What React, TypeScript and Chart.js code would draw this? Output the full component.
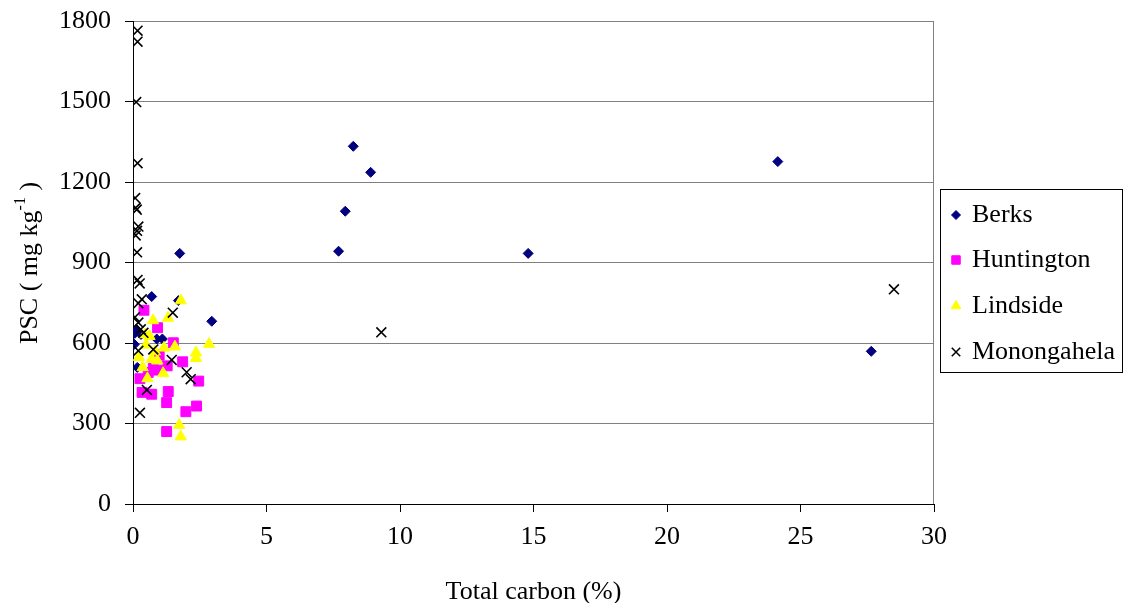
import React, { useEffect, useRef } from "react";
import { Chart, registerables } from "chart.js";
import { drawPoint } from "chart.js/helpers";

Chart.register(...registerables);

// Total carbon (%) vs PSC (mg kg-1) per soil series
const berksCarbon = [0.05, 0.07, 0.15, 0.3, 0.16, 0.7, 0.89, 1.1, 1.7, 1.75, 2.95, 7.7, 7.95, 8.25, 8.9, 14.8, 24.15, 27.65];
const berksPsc = [595, 636, 648, 632, 509, 773, 615, 615, 758, 934, 681, 942, 1091, 1333, 1236, 934, 1276, 569];

const huntingtonCarbon = [0.41, 0.92, 1.51, 1.86, 0.98, 1.28, 0.76, 0.57, 0.88, 0.26, 2.46, 0.34, 0.7, 1.32, 1.26, 2.38, 1.98, 1.26];
const huntingtonPsc = [722, 657, 601, 530, 555, 515, 506, 490, 499, 467, 458, 416, 409, 419, 378, 365, 344, 270];

const lindsideCarbon = [1.79, 0.75, 1.31, 0.45, 0.62, 2.85, 0.49, 1.16, 1.57, 0.82, 2.36, 2.36, 0.22, 0.7, 0.91, 0.36, 1.13, 0.54, 1.73, 1.79];
const lindsidePsc = [758, 684, 693, 632, 625, 596, 593, 582, 586, 568, 564, 543, 547, 540, 534, 509, 487, 468, 294, 251];

const monongahelaCarbon = [0.17, 0.17, 0.12, 0.17, 0.08, 0.1, 0.14, 0.2, 0.15, 0.1, 0.15, 0.17, 0.25, 0.33, 0.2, 0.07, 0.2, 0.29, 0.39, 1.49, 0.76, 0.2, 1.45, 2.01, 2.16, 0.52, 0.26, 9.3, 28.5];
const monongahelaPsc = [1764, 1723, 1498, 1270, 1140, 1104, 1097, 1034, 1018, 1001, 938, 835, 822, 763, 748, 696, 676, 651, 638, 713, 576, 571, 537, 491, 465, 425, 340, 640, 800];

const seriesNames = ["Berks", "Huntington", "Lindside", "Monongahela"];
const xTicks = [0, 5, 10, 15, 20, 25, 30];
const yTicks = [0, 300, 600, 900, 1200, 1500, 1800];

const FONT = '"Liberation Serif", "Times New Roman", serif';

const toPoints = (xs: number[], ys: number[]) => xs.map((x, i) => ({ x, y: ys[i] }));

const seriesStyle = [
  { pointStyle: "rectRot", color: "#000080", radius: 5, legendRadius: 4.5 },
  { pointStyle: "rect", color: "#FF00FF", radius: 7, legendRadius: 6 },
  { pointStyle: "triangle", color: "#FFFF00", radius: 6.5, legendRadius: 5.5 },
  { pointStyle: "crossRot", color: "#000000", radius: 7, legendRadius: 6 },
];

// Border on the right of the plot, y-axis title with superscript, boxed legend
const decorations = {
  id: "decorations",
  afterDraw(chart: any) {
    const { ctx, chartArea } = chart;
    ctx.save();
    ctx.strokeStyle = "#808080";
    ctx.lineWidth = 1;
    ctx.beginPath();
    ctx.moveTo(Math.round(chartArea.right) - 0.5, chartArea.top);
    ctx.lineTo(Math.round(chartArea.right) - 0.5, chartArea.bottom);
    ctx.stroke();

    // y-axis title
    ctx.fillStyle = "#000";
    ctx.translate(22, 255);
    ctx.rotate(-Math.PI / 2);
    ctx.textBaseline = "middle";
    ctx.font = `26px ${FONT}`;
    const a = "PSC ( mg kg";
    const sup = "-1";
    const b = " )";
    const wa = ctx.measureText(a).width;
    const wb = ctx.measureText(b).width;
    ctx.font = `16px ${FONT}`;
    const ws = ctx.measureText(sup).width;
    const total = wa + ws + wb;
    let cx = -total / 2;
    ctx.font = `26px ${FONT}`;
    ctx.textAlign = "left";
    ctx.fillText(a, cx, 0);
    cx += wa;
    ctx.font = `16px ${FONT}`;
    ctx.fillText(sup, cx, -9);
    cx += ws;
    ctx.font = `26px ${FONT}`;
    ctx.fillText(b, cx, 0);
    ctx.restore();

    // legend
    ctx.save();
    ctx.strokeStyle = "#000";
    ctx.lineWidth = 1;
    ctx.strokeRect(932.5, 181.5, 182, 183);
    const rows = [207, 252, 298, 344];
    seriesNames.forEach((name, i) => {
      const st = seriesStyle[i];
      ctx.fillStyle = st.color;
      ctx.strokeStyle = st.color;
      ctx.lineWidth = st.pointStyle === "crossRot" ? 1.5 : 1;
      drawPoint(ctx, { pointStyle: st.pointStyle as any, radius: st.legendRadius, rotation: 0, borderWidth: 1 }, 948, rows[i]);
      ctx.fillStyle = "#000";
      ctx.font = `26px ${FONT}`;
      ctx.textAlign = "left";
      ctx.textBaseline = "middle";
      ctx.fillText(name, 964, rows[i]);
    });
    ctx.restore();
  },
};

export default function App() {
  const canvasRef = useRef<HTMLCanvasElement | null>(null);

  useEffect(() => {
    if (!canvasRef.current) return;
    const sources = [
      toPoints(berksCarbon, berksPsc),
      toPoints(huntingtonCarbon, huntingtonPsc),
      toPoints(lindsideCarbon, lindsidePsc),
      toPoints(monongahelaCarbon, monongahelaPsc),
    ];
    const chart = new Chart(canvasRef.current, {
      type: "scatter",
      data: {
        datasets: sources.map((data, i) => ({
          label: seriesNames[i],
          data,
          order: 4 - i,
          pointStyle: seriesStyle[i].pointStyle as any,
          pointRadius: seriesStyle[i].radius,
          pointBackgroundColor: seriesStyle[i].color,
          pointBorderColor: seriesStyle[i].color,
          pointBorderWidth: seriesStyle[i].pointStyle === "crossRot" ? 1.6 : 1,
          showLine: false,
        })),
      },
      options: {
        responsive: false,
        animation: false,
        events: [],
        layout: { padding: { left: 0, top: 13, right: 189, bottom: 0 } },
        plugins: {
          legend: { display: false },
          tooltip: { enabled: false },
          title: { display: false },
        },
        scales: {
          x: {
            type: "linear",
            min: 0,
            max: 30,
            afterBuildTicks: (scale: any) => {
              scale.ticks = xTicks.map((value) => ({ value }));
            },
            afterFit: (scale: any) => {
              scale.height = 99;
              scale.paddingLeft = 0;
              scale.paddingRight = 0;
            },
            ticks: {
              color: "#000",
              padding: 10,
              font: { family: FONT, size: 26 },
              callback: (v: any) => String(v),
            },
            grid: {
              display: true,
              drawOnChartArea: true,
              color: "rgba(0,0,0,0)",
              tickColor: "#000",
              tickLength: 8,
            },
            border: { display: true, color: "#000", width: 1 },
            title: {
              display: true,
              text: "Total carbon (%)",
              color: "#000",
              font: { family: FONT, size: 26, lineHeight: 1 },
              padding: { top: 0, bottom: -2 },
            },
          },
          y: {
            type: "linear",
            min: 0,
            max: 1800,
            afterBuildTicks: (scale: any) => {
              scale.ticks = yTicks.map((value) => ({ value }));
            },
            afterFit: (scale: any) => {
              scale.width = 125;
              scale.paddingTop = 0;
              scale.paddingBottom = 0;
            },
            ticks: {
              color: "#000",
              padding: 14,
              font: { family: FONT, size: 26 },
              callback: (v: any) => String(v),
            },
            grid: {
              color: "#808080",
              tickColor: "#000",
              tickLength: 8,
            },
            border: { display: true, color: "#000", width: 1 },
          },
        },
      },
      plugins: [decorations],
    });
    return () => chart.destroy();
  }, []);

  return (
    <div style={{ width: 1115, height: 595 }}>
      <canvas ref={canvasRef} width={1115} height={595} style={{ display: "block" }} />
    </div>
  );
}
